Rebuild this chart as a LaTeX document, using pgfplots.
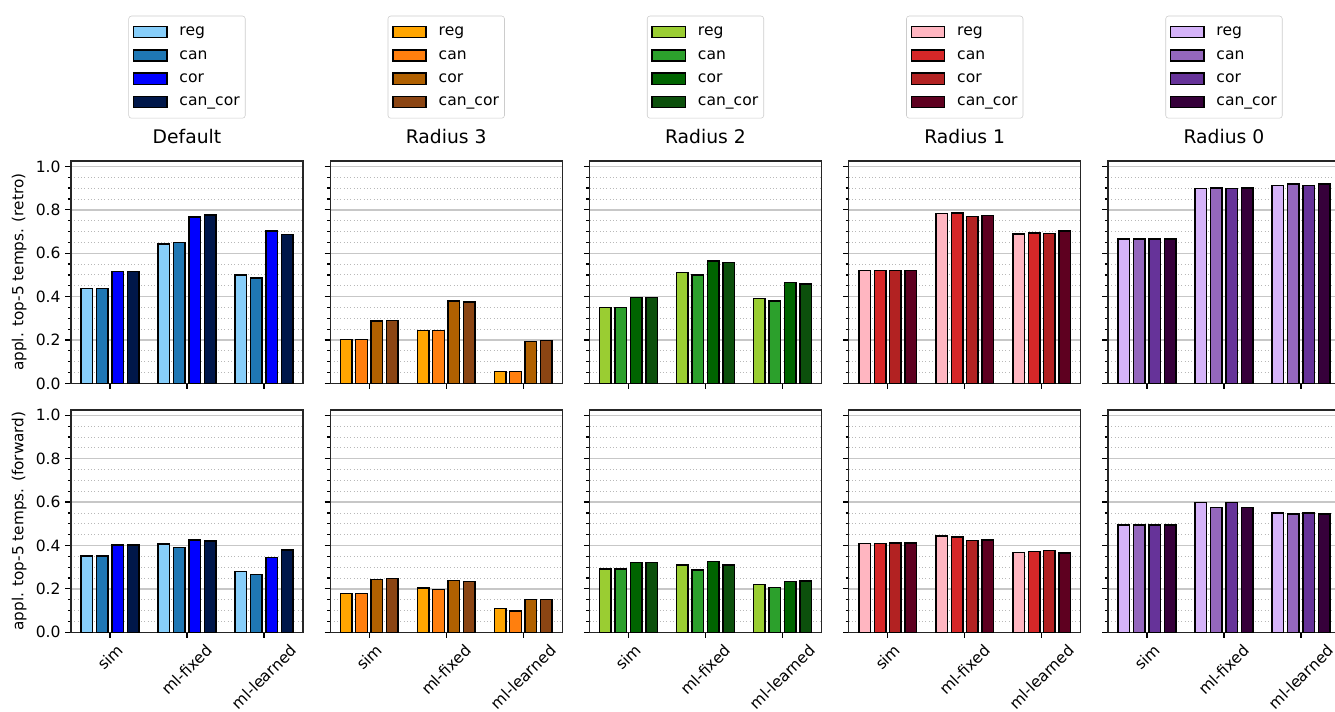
\documentclass[border=0pt]{standalone}
\usepackage{fontspec}
\setmainfont{DejaVu Sans}
\usepackage{graphicx}
\usepackage{pgfplots}
\pgfplotsset{compat=1.18}

\definecolor{Da}{HTML}{87CEFA}\definecolor{Db}{HTML}{1F77B4}\definecolor{Dc}{HTML}{0000FF}\definecolor{Dd}{HTML}{00174A}
\definecolor{Ta}{HTML}{FFA500}\definecolor{Tb}{HTML}{FF7F0E}\definecolor{Tc}{HTML}{B06000}\definecolor{Td}{HTML}{8B4513}
\definecolor{Sa}{HTML}{9ACD32}\definecolor{Sb}{HTML}{2CA02C}\definecolor{Sc}{HTML}{006400}\definecolor{Sd}{HTML}{0C500C}
\definecolor{Oa}{HTML}{FFB6C1}\definecolor{Ob}{HTML}{D62728}\definecolor{Oc}{HTML}{B22222}\definecolor{Od}{HTML}{5E0020}
\definecolor{Za}{HTML}{D5B3F9}\definecolor{Zb}{HTML}{9467BD}\definecolor{Zc}{HTML}{663399}\definecolor{Zd}{HTML}{36003A}

\newcommand\fourbars[5]{%
 \addplot[fill=#1a, bar shift=-0.3] coordinates {#2};
 \addplot[fill=#1b, bar shift=-0.1] coordinates {#3};
 \addplot[fill=#1c, bar shift=0.1] coordinates {#4};
 \addplot[fill=#1d, bar shift=0.3] coordinates {#5};
}

\pgfplotsset{
 panel/.style={
  scale only axis, width=167pt, height=160.1pt, anchor=south west,
  ymin=0, ymax=1.025, xmin=-0.506, xmax=2.506,
  ybar, bar width=0.15,
  every axis plot/.append style={draw=black, line width=1.05pt},
  legend image code/.code={\draw[##1,line width=1.05pt,sharp corners] (0pt,-4pt) rectangle (24pt,4pt);},
  ytick={0,0.2,0.4,0.6,0.8,1.0}, minor y tick num=3,
  ymajorgrids, yminorgrids,
  major grid style={draw=black!22, line width=1pt},
  minor grid style={draw=black!28, dotted, line width=0.6pt},
  xtick={0,1,2}, xticklabels={},
  tick align=outside, tick pos=left,
  major tick length=4pt, minor tick length=2.3pt,
  every tick/.style={black, line width=0.9pt},
  axis line style={line width=0.9pt, draw=black!85},
  tick label style={font=\fontsize{11.2}{13}\selectfont},
  /pgf/number format/assume math mode=true,
  yticklabel style={/pgf/number format/.cd, fixed, fixed zerofill, precision=1},
  yticklabels={},
  ylabel style={at={(axis description cs:-0.224,0.5)}, anchor=center, font=\fontsize{11}{13}\selectfont},
  title style={at={(axis description cs:0.5,1)}, anchor=base, yshift=6.8pt, inner sep=0pt, font=\fontsize{13.5}{16}\selectfont},
  legend cell align=left,
  legend style={at={(axis description cs:0.5,1)}, anchor=south, yshift=30.6pt,
    draw=black!20, rounded corners=2pt, fill=white, font=\fontsize{11.2}{13}\selectfont,
    inner xsep=3pt, inner ysep=5pt, row sep=3.6pt,
    nodes={inner sep=1pt, text height=8.3pt, text depth=2.9pt},
    /tikz/every odd column/.append style={column sep=7.5pt}},
 },
 firstcol/.style={yticklabels={0.0,0.2,0.4,0.6,0.8,1.0}},
 bottomrow/.style={xticklabels={\rotatebox{45}{sim},\rotatebox{45}{ml-fixed},\rotatebox{45}{ml-learned}},
   xticklabel style={anchor=north, inner sep=0pt, yshift=-3.5pt}},
}

\begin{document}
\begin{tikzpicture}
% ---------------- top row (retro) ----------------
\begin{axis}[panel, firstcol, at={(51.12pt,235.9pt)}, title={Default}, ylabel={appl. top-5 temps. (retro)}]
\fourbars{D}{(0,0.438)(1,0.642)(2,0.500)}{(0,0.438)(1,0.650)(2,0.485)}{(0,0.516)(1,0.766)(2,0.703)}{(0,0.516)(1,0.777)(2,0.685)}
\legend{reg,can,cor,can\_cor}
\end{axis}
\begin{axis}[panel, at={(237.78pt,235.9pt)}, title={Radius 3}]
\fourbars{T}{(0,0.203)(1,0.243)(2,0.054)}{(0,0.203)(1,0.243)(2,0.054)}{(0,0.288)(1,0.380)(2,0.192)}{(0,0.291)(1,0.374)(2,0.198)}
\legend{reg,can,cor,can\_cor}
\end{axis}
\begin{axis}[panel, at={(424.44pt,235.9pt)}, title={Radius 2}]
\fourbars{S}{(0,0.349)(1,0.511)(2,0.391)}{(0,0.349)(1,0.500)(2,0.380)}{(0,0.397)(1,0.563)(2,0.466)}{(0,0.397)(1,0.558)(2,0.458)}
\legend{reg,can,cor,can\_cor}
\end{axis}
\begin{axis}[panel, at={(611.10pt,235.9pt)}, title={Radius 1}]
\fourbars{O}{(0,0.521)(1,0.782)(2,0.689)}{(0,0.521)(1,0.785)(2,0.694)}{(0,0.521)(1,0.768)(2,0.692)}{(0,0.521)(1,0.775)(2,0.703)}
\legend{reg,can,cor,can\_cor}
\end{axis}
\begin{axis}[panel, at={(797.76pt,235.9pt)}, title={Radius 0}]
\fourbars{Z}{(0,0.665)(1,0.897)(2,0.911)}{(0,0.665)(1,0.900)(2,0.918)}{(0,0.665)(1,0.897)(2,0.911)}{(0,0.665)(1,0.900)(2,0.918)}
\legend{reg,can,cor,can\_cor}
\end{axis}
% ---------------- bottom row (forward) ----------------
\begin{axis}[panel, firstcol, bottomrow, at={(51.12pt,56.7pt)}, ylabel={appl. top-5 temps. (forward)}]
\fourbars{D}{(0,0.351)(1,0.406)(2,0.279)}{(0,0.351)(1,0.391)(2,0.267)}{(0,0.403)(1,0.426)(2,0.344)}{(0,0.403)(1,0.420)(2,0.379)}
\end{axis}
\begin{axis}[panel, bottomrow, at={(237.78pt,56.7pt)}]
\fourbars{T}{(0,0.179)(1,0.204)(2,0.109)}{(0,0.179)(1,0.198)(2,0.097)}{(0,0.244)(1,0.239)(2,0.152)}{(0,0.247)(1,0.235)(2,0.150)}
\end{axis}
\begin{axis}[panel, bottomrow, at={(424.44pt,56.7pt)}]
\fourbars{S}{(0,0.291)(1,0.310)(2,0.219)}{(0,0.291)(1,0.288)(2,0.207)}{(0,0.321)(1,0.327)(2,0.233)}{(0,0.321)(1,0.310)(2,0.236)}
\end{axis}
\begin{axis}[panel, bottomrow, at={(611.10pt,56.7pt)}]
\fourbars{O}{(0,0.408)(1,0.443)(2,0.368)}{(0,0.408)(1,0.439)(2,0.371)}{(0,0.411)(1,0.423)(2,0.376)}{(0,0.411)(1,0.426)(2,0.365)}
\end{axis}
\begin{axis}[panel, bottomrow, at={(797.76pt,56.7pt)}]
\fourbars{Z}{(0,0.494)(1,0.597)(2,0.549)}{(0,0.494)(1,0.574)(2,0.545)}{(0,0.494)(1,0.597)(2,0.549)}{(0,0.494)(1,0.574)(2,0.546)}
\end{axis}
\pgfresetboundingbox
\useasboundingbox (0,0) rectangle (961.2pt,511.92pt);
\end{tikzpicture}
\end{document}
